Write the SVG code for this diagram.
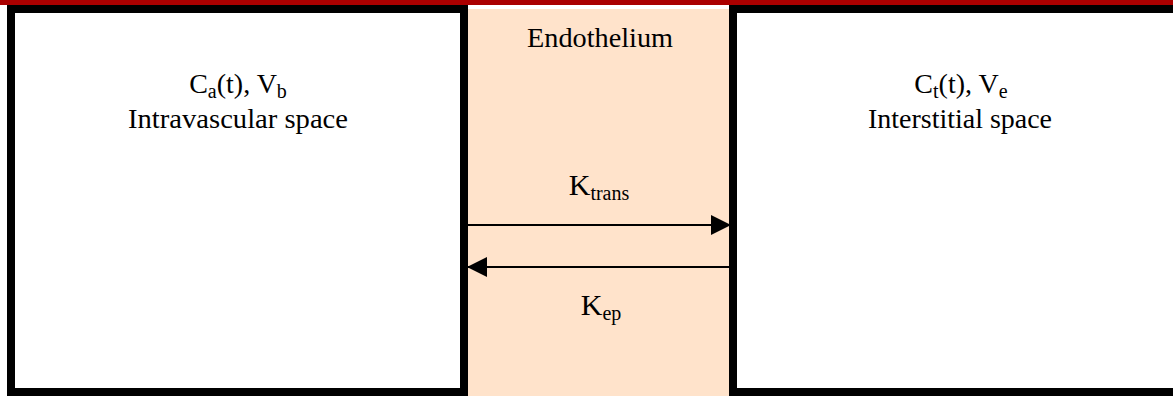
<svg xmlns="http://www.w3.org/2000/svg" width="1173" height="396" viewBox="0 0 1173 396">
  <style>
    .box { fill: #ffffff; stroke: #000000; stroke-width: 8; }
    .lbl { font-family: "Liberation Serif", "Times New Roman", serif; font-size: 28px; fill: #000000; text-anchor: middle; }
    .big { font-size: 30px; }
    .sub { font-size: 20px; }
    .conn { stroke: #000000; stroke-width: 2; fill: none; }
  </style>
  <defs>
    <marker id="arrow" viewBox="0 0 20 20" refX="20" refY="10" markerWidth="20" markerHeight="20" markerUnits="userSpaceOnUse" orient="auto">
      <path d="M0,0 L20,10 L0,20 Z" fill="#000000"/>
    </marker>
  </defs>
  <rect x="0" y="0" width="1173" height="396" fill="#ffffff"/>
  <rect x="0" y="0" width="1173" height="5" fill="#aa0000"/>
  <g id="endothelium">
    <rect x="468" y="9" width="261" height="387" fill="#ffe3cb"/>
    <text class="lbl" x="600" y="47" textLength="146" lengthAdjust="spacingAndGlyphs">Endothelium</text>
  </g>
  <g id="intravascular">
    <rect class="box" x="11" y="9" width="453" height="383"/>
    <text class="lbl" x="238" y="93">C<tspan class="sub" dy="5">a</tspan><tspan dy="-5">(t), V</tspan><tspan class="sub" dy="5">b</tspan></text>
    <text class="lbl" x="238" y="128" textLength="220" lengthAdjust="spacingAndGlyphs">Intravascular space</text>
  </g>
  <g id="interstitial">
    <rect class="box" x="733" y="9" width="460" height="383"/>
    <text class="lbl" x="961" y="93">C<tspan class="sub" dy="5">t</tspan><tspan dy="-5">(t), V</tspan><tspan class="sub" dy="5">e</tspan></text>
    <text class="lbl" x="960" y="128" textLength="184" lengthAdjust="spacingAndGlyphs">Interstitial space</text>
  </g>
  <g id="connectors">
    <line class="conn" x1="468" y1="225" x2="731" y2="225" marker-end="url(#arrow)"/>
    <line class="conn" x1="729" y1="267" x2="467" y2="267" marker-end="url(#arrow)"/>
    <text class="lbl big" x="599" y="195">K<tspan class="sub" dy="5">trans</tspan></text>
    <text class="lbl big" x="601" y="315">K<tspan class="sub" dy="5">ep</tspan></text>
  </g>
</svg>
